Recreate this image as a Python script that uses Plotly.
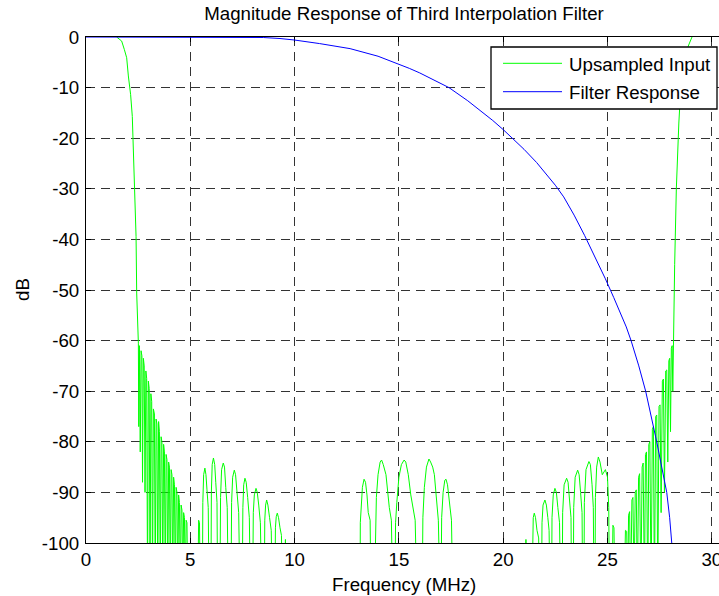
import plotly.graph_objects as go

# ---------------------------------------------------------------------------
# Spectrum of the upsampled input, (frequency MHz, magnitude dB) pairs
# ---------------------------------------------------------------------------
green_passband = [
    (0.00, 2.0), (0.60, 1.8), (1.10, 1.2), (1.40, 0.4), (1.47, 0.0),
    (1.71, -0.8), (1.84, -2.5), (1.95, -4.1), (2.03, -7.7), (2.14, -11.4),
    (2.22, -15.7), (2.27, -21.6), (2.35, -32.0), (2.40, -39.4), (2.43, -50.6),
    (2.48, -59.8),
]

green_skirt_low = [
    (2.51, -60.5), (2.53, -77.0), (2.56, -61.0), (2.60, -82.0), (2.64, -62.0),
    (2.68, -63.0), (2.71, -88.0), (2.75, -63.5), (2.79, -65.0), (2.83, -90.0),
    (2.87, -66.0), (2.91, -67.5), (2.95, -110), (2.99, -68.0), (3.03, -69.5),
    (3.07, -110), (3.11, -70.5), (3.15, -72.0), (3.19, -110), (3.23, -73.5),
    (3.28, -74.5), (3.32, -110), (3.36, -75.5), (3.40, -76.5), (3.44, -110),
    (3.48, -76.0), (3.52, -78.0), (3.56, -110), (3.60, -79.0), (3.64, -80.0),
    (3.68, -110), (3.72, -80.5), (3.76, -82.0), (3.80, -110), (3.84, -82.5),
    (3.88, -83.5), (3.92, -110), (3.96, -84.0), (4.00, -85.0), (4.04, -110),
    (4.08, -85.5), (4.12, -86.5), (4.16, -110), (4.20, -87.0), (4.24, -88.5),
    (4.28, -110), (4.32, -89.0), (4.36, -90.0), (4.40, -110), (4.44, -90.5),
    (4.48, -92.0), (4.52, -110), (4.56, -92.5), (4.60, -93.5), (4.64, -110),
    (4.68, -94.0), (4.72, -95.0), (4.76, -110), (4.80, -95.5), (4.84, -96.0),
    (4.88, -110), (5.20, -120),
]

green_lobes_a = [
    (5.36, -110), (5.40, -95.5), (5.44, -96.0), (5.48, -110),
    (5.58, -110), (5.60, -92.0), (5.64, -86.5), (5.70, -85.2), (5.75, -86.5),
    (5.80, -89.5), (5.86, -93.0), (5.90, -110),
    (5.99, -110), (6.01, -90.0), (6.05, -84.5), (6.11, -83.2), (6.17, -84.5),
    (6.22, -88.0), (6.28, -92.0), (6.31, -110),
    (6.42, -110), (6.45, -91.0), (6.50, -85.5), (6.58, -84.2), (6.64, -85.0),
    (6.70, -89.0), (6.77, -93.0), (6.82, -110),
    (6.95, -110), (6.98, -92.0), (7.03, -87.0), (7.11, -85.6), (7.17, -86.5),
    (7.24, -90.0), (7.32, -94.0), (7.38, -110),
    (7.49, -110), (7.52, -93.0), (7.56, -88.5), (7.62, -87.2), (7.68, -88.0),
    (7.75, -91.0), (7.83, -95.0), (7.88, -110),
    (7.99, -110), (8.02, -94.0), (8.07, -90.5), (8.15, -89.2), (8.21, -90.0),
    (8.28, -92.5), (8.36, -96.0), (8.42, -110),
    (8.55, -110), (8.57, -95.5), (8.61, -92.5), (8.66, -91.5), (8.72, -92.5),
    (8.80, -95.0), (8.88, -97.5), (8.93, -110),
    (9.06, -110), (9.08, -97.0), (9.12, -94.8), (9.17, -94.1), (9.23, -95.0),
    (9.30, -97.0), (9.37, -98.5), (9.41, -110),
    (9.52, -110), (9.56, -99.3), (9.60, -110), (11.0, -120),
]

green_lobes_b = [
    (13.14, -110), (13.15, -96.0), (13.18, -93.0), (13.25, -89.0), (13.33, -87.4),
    (13.40, -88.0), (13.47, -90.5), (13.53, -94.0), (13.62, -95.5), (13.66, -110),
    (13.83, -110), (13.87, -96.0), (13.92, -91.0), (14.00, -86.5), (14.10, -84.0),
    (14.17, -83.6), (14.25, -84.5), (14.38, -86.5), (14.45, -90.0), (14.54, -93.0),
    (14.64, -95.5), (14.70, -110),
    (14.81, -110), (14.84, -96.0), (14.90, -92.0), (15.00, -87.0), (15.12, -84.5),
    (15.25, -83.6), (15.33, -84.0), (15.45, -86.5), (15.57, -90.5), (15.69, -93.0),
    (15.78, -95.5), (15.86, -110),
    (16.12, -110), (16.15, -95.0), (16.22, -89.0), (16.32, -85.0), (16.44, -83.4),
    (16.52, -84.0), (16.62, -85.0), (16.70, -86.5), (16.80, -91.0), (16.89, -95.5),
    (16.97, -110),
    (17.02, -110), (17.05, -95.0), (17.12, -90.0), (17.20, -87.6), (17.26, -87.4),
    (17.33, -88.5), (17.40, -91.5), (17.47, -94.0), (17.52, -95.5), (17.58, -110),
    (19.0, -120),
]

green_lobes_c = [
    (21.05, -110), (21.09, -99.3), (21.12, -110),
    (21.38, -110), (21.40, -98.5), (21.44, -95.0), (21.49, -94.1), (21.55, -95.0),
    (21.62, -97.5), (21.70, -99.0), (21.73, -110),
    (21.84, -110), (21.86, -96.0), (21.91, -92.5), (22.00, -91.5), (22.07, -92.5),
    (22.14, -95.0), (22.20, -97.5), (22.24, -110),
    (22.32, -110), (22.34, -95.0), (22.40, -90.5), (22.48, -89.2), (22.55, -90.0),
    (22.62, -93.0), (22.70, -96.0), (22.75, -110),
    (22.83, -110), (22.85, -94.0), (22.92, -88.5), (23.04, -87.2), (23.11, -88.0),
    (23.18, -91.5), (23.25, -95.0), (23.28, -110),
    (23.36, -110), (23.38, -93.0), (23.45, -87.0), (23.57, -85.6), (23.64, -86.5),
    (23.71, -90.0), (23.78, -94.0), (23.81, -110),
    (23.87, -110), (23.89, -92.0), (23.97, -85.5), (24.11, -83.9), (24.18, -84.5),
    (24.26, -88.5), (24.32, -93.0), (24.35, -110),
    (24.40, -110), (24.42, -91.0), (24.48, -85.0), (24.56, -83.0), (24.64, -84.0),
    (24.75, -86.5), (24.90, -85.5), (25.00, -87.0), (25.06, -93.0), (25.09, -110),
    (25.22, -110), (25.26, -96.5), (25.31, -97.0), (25.35, -110),
]

green_skirt_high = [
    (25.80, -110), (25.86, -97.5), (25.92, -97.7), (25.97, -110), (26.01, -94.5),
    (26.06, -93.8), (26.11, -110), (26.17, -91.5), (26.22, -91.0), (26.27, -110),
    (26.33, -90.0), (26.38, -89.5), (26.43, -110), (26.49, -87.0), (26.54, -86.3),
    (26.60, -110), (26.66, -85.0), (26.71, -84.2), (26.77, -110), (26.82, -82.5),
    (26.87, -82.0), (26.93, -110), (26.98, -80.5), (27.03, -80.0), (27.09, -110),
    (27.15, -77.5), (27.20, -77.0), (27.25, -110), (27.31, -75.0), (27.36, -74.7),
    (27.41, -110), (27.47, -73.0), (27.52, -72.7), (27.57, -94.0), (27.63, -68.0),
    (27.68, -67.6), (27.73, -90.0), (27.79, -66.0), (27.84, -65.8), (27.89, -84.0),
    (27.94, -64.0), (27.98, -63.5), (28.02, -78.0), (28.06, -61.5), (28.10, -61.0),
    (28.13, -70.0), (28.16, -60.0),
]

green_image = [
    (28.22, -45.0), (28.30, -30.0), (28.36, -22.0), (28.42, -17.0), (28.46, -14.0),
    (28.60, -9.0), (28.75, -4.5), (28.87, -1.8), (28.98, -0.5), (29.07, 0.2),
    (29.30, 2.0), (30.00, 3.0), (30.60, 3.0),
]

# ---------------------------------------------------------------------------
# Third interpolation filter magnitude response
# ---------------------------------------------------------------------------
filter_f = [0, 2, 4, 6, 7.5, 8.5, 9.3, 10.0, 11.2, 12.66, 14.0, 15.0, 15.5, 16.0,
            16.5, 17.0, 17.4, 18.3, 19.05, 19.5, 20.0, 20.45, 21.0, 21.6, 22.0,
            22.5, 22.9, 23.4, 23.9, 24.4, 24.9, 25.3, 25.6, 25.9, 26.13, 26.5,
            26.83, 27.1, 27.36, 27.6, 27.84, 27.98, 28.09, 28.2]
filter_db = [0, 0, 0, 0, 0, -0.1, -0.3, -0.6, -1.3, -2.3, -3.8, -5.3, -6.2, -7.1,
             -8.1, -9.1, -10.0, -12.6, -15.0, -16.5, -18.3, -20.0, -22.2, -24.8,
             -26.7, -29.3, -31.6, -35.2, -39.2, -43.4, -47.8, -51.5, -54.3, -57.3,
             -60.0, -65.0, -70.0, -75.0, -80.0, -85.0, -90.0, -95.0, -100.0, -106.0]

x_ticks = [0, 5, 10, 15, 20, 25, 30]
y_ticks = [0, -10, -20, -30, -40, -50, -60, -70, -80, -90, -100]
y_tick_text = ["0", "-10", "-20", "-30", "-40", "-50", "-60", "-70", "-80", "-90", "-100"]

series_names = ["Upsampled Input", "Filter Response"]
series_colors = ["#00ff00", "#0000ff"]

green_segments = [green_passband, green_skirt_low, green_lobes_a, green_lobes_b,
                  green_lobes_c, green_skirt_high, green_image]
input_f = [f for seg in green_segments for f, _ in seg]
input_db = [d for seg in green_segments for _, d in seg]

# ---------------------------------------------------------------------------
# Figure geometry (pixels)
# ---------------------------------------------------------------------------
W, H = 719, 596
ML, MR, MT, MB = 86, 0, 37, 53
PW, PH = W - ML - MR, H - MT - MB
PX_PER_MHZ = 20.86
X_MAX = PW / PX_PER_MHZ

FONT = "Liberation Sans, Arial, Helvetica, sans-serif"
FS = 18.7


def px_x(px):
    return (px - ML) / PW


def px_y(py):
    return (H - MB - py) / PH


fig = go.Figure()
fig.add_trace(go.Scatter(x=input_f, y=input_db, mode="lines", name=series_names[0],
                         line=dict(color=series_colors[0], width=1), showlegend=False))
fig.add_trace(go.Scatter(x=filter_f, y=filter_db, mode="lines", name=series_names[1],
                         line=dict(color=series_colors[1], width=1), showlegend=False))

grid_common = dict(showgrid=True, gridcolor="#333333", gridwidth=1, griddash="9px,6px",
                   zeroline=False, showline=True, linecolor="black", linewidth=1,
                   ticks="inside", ticklen=5, tickcolor="black",
                   tickfont=dict(family=FONT, size=FS, color="black"),
                   automargin=False, layer="below traces")

fig.update_xaxes(range=[0, X_MAX], tickvals=x_ticks, ticktext=[str(t) for t in x_ticks],
                 mirror="ticks", ticklabelstandoff=0, ticklabeloverflow="allow",
                 **grid_common)
fig.update_yaxes(range=[-100, 0], tickvals=y_ticks, ticktext=y_tick_text,
                 mirror=False, ticklabelstandoff=2, **grid_common)

annotations = [
    dict(text="Frequency (MHz)", x=px_x(404), y=px_y(584), xref="paper", yref="paper",
         showarrow=False, xanchor="center", yanchor="middle",
         font=dict(family=FONT, size=FS, color="black")),
    dict(text="dB", x=px_x(22), y=px_y(290), xref="paper", yref="paper", textangle=-90,
         showarrow=False, xanchor="center", yanchor="middle",
         font=dict(family=FONT, size=FS, color="black")),
]

# Legend box drawn with shapes so the line samples have MATLAB proportions
legend_left, legend_right, legend_top, legend_bottom = 491, 717, 47, 109
legend_rows = [63.3, 91.7]
shapes = [dict(type="rect", xref="paper", yref="paper",
               x0=px_x(legend_left), x1=px_x(legend_right),
               y0=px_y(legend_bottom), y1=px_y(legend_top),
               fillcolor="white", line=dict(color="black", width=1.3), layer="above")]
for name, color, row in zip(series_names, series_colors, legend_rows):
    shapes.append(dict(type="line", xref="paper", yref="paper",
                       x0=px_x(503), x1=px_x(562), y0=px_y(row), y1=px_y(row),
                       line=dict(color=color, width=1), layer="above"))
    annotations.append(dict(text=name, x=px_x(567), y=px_y(row + 1), xref="paper",
                            yref="paper", showarrow=False, xanchor="left",
                            yanchor="middle",
                            font=dict(family=FONT, size=FS, color="black")))

fig.update_layout(
    width=W, height=H,
    margin=dict(l=ML, r=MR, t=MT, b=MB, pad=0),
    paper_bgcolor="white", plot_bgcolor="white",
    title=dict(text="Magnitude Response of Third Interpolation Filter",
               x=404 / W, xref="container", xanchor="center",
               y=1 - 13 / H, yref="container", yanchor="middle",
               font=dict(family=FONT, size=FS, color="black")),
    shapes=shapes, annotations=annotations,
    showlegend=False,
)

fig.write_html("out.html")
